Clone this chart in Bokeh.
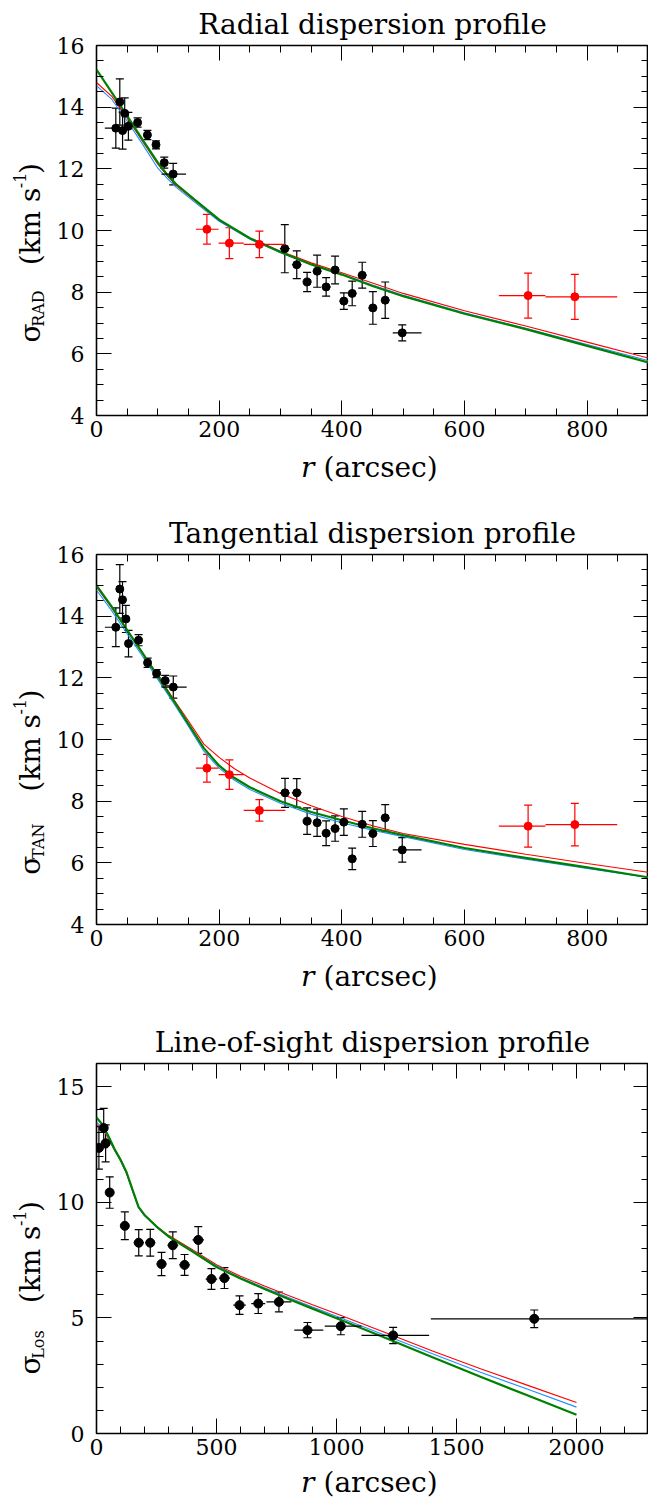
import numpy as np
from bokeh.plotting import figure
from bokeh.models import (Label, LinearAxis, SingleIntervalTicker, Range1d,
                          Whisker, TeeHead, ColumnDataSource, CustomJSTickFormatter)
from bokeh.layouts import column, row
from bokeh.embed import file_html
from bokeh.resources import INLINE

# ---------------- data ----------------
# Radial panel
rad_blk_x = [31.5, 38, 42.5, 46, 52, 67, 83, 97, 110.5, 125, 307, 326.5, 343.4, 359.7, 374.4, 389, 403.3, 416.9, 433.2, 450.6, 470.7, 498.5]
rad_blk_y = [13.32, 14.17, 13.24, 13.8, 13.38, 13.5, 13.1, 12.78, 12.2, 11.83, 9.41, 8.89, 8.33, 8.68, 8.17, 8.72, 7.71, 7.96, 8.55, 7.49, 7.74, 6.68]
rad_blk_e = [0.65, 0.75, 0.6, 0.5, 0.45, 0.15, 0.15, 0.13, 0.18, 0.35, 0.78, 0.45, 0.31, 0.52, 0.3, 0.45, 0.27, 0.4, 0.42, 0.53, 0.59, 0.26]
rad_blk_xlo = [13.6, 33, 37.5, 41, 47, 62, 78, 92, 105.5, 106, 299, 318.5, 336.4, 352.7, 367.4, 382, 396.3, 409.9, 426.2, 443.6, 463.7, 483]
rad_blk_xhi = [50.6, 43, 47.5, 51, 57, 72, 88, 102, 115.5, 146, 315, 334.5, 350.4, 366.7, 381.4, 396, 410.3, 423.9, 440.2, 457.6, 477.7, 530]
rad_red_x = [180, 216.6, 265.6, 703.7, 779.9]
rad_red_y = [10.04, 9.59, 9.55, 7.89, 7.85]
rad_red_e = [0.48, 0.5, 0.43, 0.73, 0.73]
rad_red_xlo = [162, 199, 240, 656, 732]
rad_red_xhi = [199, 240, 308, 732, 849]
rad_mod_x = [0, 25, 50, 75, 100, 115, 130, 160, 200, 250, 300, 350, 400, 450, 500, 600, 700, 800, 900]
rad_mod_green = [15.22, 14.47, 13.72, 12.95, 12.2, 11.82, 11.5, 11.0, 10.35, 9.75, 9.3, 8.9, 8.57, 8.2, 7.87, 7.3, 6.8, 6.26, 5.72]
rad_mod_red = [14.8, 14.35, 13.65, 12.9, 12.15, 11.78, 11.46, 10.97, 10.33, 9.76, 9.33, 8.95, 8.63, 8.3, 7.96, 7.4, 6.9, 6.38, 5.86]
rad_mod_blue = [14.7, 14.25, 13.55, 12.8, 12.02, 11.7, 11.4, 10.92, 10.3, 9.72, 9.28, 8.9, 8.58, 8.23, 7.9, 7.33, 6.83, 6.3, 5.78]

# Tangential panel
tan_blk_x = [31.5, 38, 42.4, 47.9, 52.2, 68.6, 83.3, 98, 112, 125.2, 307.4, 326.5, 343.4, 359.7, 374.4, 389, 403.3, 416.9, 433.2, 450.6, 470.7, 498.5]
tan_blk_y = [13.64, 14.88, 14.53, 13.91, 13.11, 13.22, 12.49, 12.14, 11.91, 11.7, 8.27, 8.27, 7.35, 7.30, 6.96, 7.11, 7.32, 6.13, 7.25, 6.95, 7.46, 6.42]
tan_blk_e = [0.63, 0.79, 0.59, 0.44, 0.43, 0.18, 0.15, 0.13, 0.17, 0.36, 0.47, 0.46, 0.43, 0.44, 0.4, 0.41, 0.43, 0.35, 0.42, 0.42, 0.43, 0.4]
tan_blk_xlo = [13.6, 33, 37.4, 42.9, 47.2, 63.6, 78.3, 93, 107, 106, 299, 318.5, 336.4, 352.7, 367.4, 382, 396.3, 409.9, 426.2, 443.6, 463.7, 483]
tan_blk_xhi = [48, 43, 47.4, 52.9, 57.2, 73.6, 88.3, 103, 117, 147, 315, 334.5, 350.4, 366.7, 381.4, 396, 410.3, 423.9, 440.2, 457.6, 477.7, 530]
tan_red_x = [180, 216.6, 265.6, 703.7, 779.9]
tan_red_y = [9.07, 8.86, 7.70, 7.19, 7.24]
tan_red_e = [0.45, 0.48, 0.35, 0.68, 0.69]
tan_red_xlo = [162, 199, 240, 656, 732]
tan_red_xhi = [199, 240, 308, 732, 849]
tan_mod_x = [0, 25, 50, 75, 100, 125, 150, 175, 200, 225, 250, 300, 350, 400, 450, 500, 600, 700, 800, 900]
tan_mod_green = [15.0, 14.3, 13.55, 12.8, 12.05, 11.28, 10.5, 9.72, 9.15, 8.75, 8.45, 8.0, 7.65, 7.38, 7.12, 6.9, 6.48, 6.16, 5.85, 5.53]
tan_mod_red = [14.95, 14.27, 13.55, 12.82, 12.08, 11.33, 10.6, 9.85, 9.42, 9.05, 8.75, 8.25, 7.85, 7.5, 7.2, 6.95, 6.6, 6.28, 5.98, 5.69]
tan_mod_blue = [14.85, 14.17, 13.43, 12.7, 11.95, 11.2, 10.42, 9.62, 9.07, 8.68, 8.38, 7.93, 7.58, 7.3, 7.06, 6.85, 6.43, 6.12, 5.82, 5.52]

# Line-of-sight panel
los_x = [10, 30, 38, 55, 118, 176, 224, 271, 318, 367, 424, 479, 533, 596, 674, 760, 879, 1018, 1236, 1824]
los_y = [12.35, 13.21, 12.55, 10.42, 8.98, 8.25, 8.25, 7.33, 8.14, 7.29, 8.37, 6.68, 6.72, 5.55, 5.62, 5.69, 4.47, 4.64, 4.24, 4.96]
los_e = [0.92, 0.85, 0.8, 0.68, 0.6, 0.57, 0.58, 0.5, 0.58, 0.45, 0.58, 0.45, 0.45, 0.4, 0.43, 0.43, 0.33, 0.37, 0.35, 0.38]
los_xlo = [0, 20, 28, 42, 100, 155, 203, 250, 295, 345, 400, 455, 510, 570, 645, 708, 824, 951, 1104, 1393]
los_xhi = [20, 40, 48, 68, 136, 197, 245, 292, 341, 389, 448, 503, 556, 622, 703, 812, 945, 1104, 1386, 2400]
los_mod_x = [0, 25, 50, 75, 100, 125, 150, 175, 200, 250, 300, 400, 500, 600, 700, 800, 900, 1000, 1200, 1400, 1600, 1800, 2000]
los_mod_green = [13.67, 13.35, 12.85, 12.3, 11.85, 11.3, 10.55, 9.8, 9.45, 8.95, 8.52, 7.87, 7.2, 6.7, 6.25, 5.82, 5.4, 4.98, 4.15, 3.3, 2.45, 1.63, 0.81]
los_mod_red = [13.35, 13.2, 12.75, 12.25, 11.8, 11.25, 10.5, 9.78, 9.45, 8.97, 8.57, 7.95, 7.3, 6.8, 6.38, 5.97, 5.57, 5.18, 4.38, 3.57, 2.8, 2.07, 1.34]
los_mod_blue = [13.45, 13.25, 12.8, 12.25, 11.8, 11.25, 10.5, 9.77, 9.42, 8.93, 8.52, 7.9, 7.25, 6.74, 6.3, 5.88, 5.47, 5.07, 4.26, 3.45, 2.65, 1.9, 1.14]

titles = ["Radial dispersion profile", "Tangential dispersion profile", "Line-of-sight dispersion profile"]
subs = ["RAD", "TAN", "Los"]

# ---------------- style / geometry ----------------
FONT = "DejaVu Serif"
FW, FH = 552, 370          # frame size
YL_W = 53                  # width of the y-label strip
ML = 42                    # main figure left border (tick labels)
MT, MB = 45, 31            # main figure top / bottom borders
MAIN_H = MT + FH + MB
C_RED, C_BLUE, C_GREEN = "#ff0000", "#1e90ff", "#008000"
BIG, SMALL = "28px", "16px"


def style_axis(ax, ticker, labels=True):
    ax.ticker = ticker
    ax.major_tick_in = 15
    ax.major_tick_out = 0
    ax.minor_tick_in = 7
    ax.minor_tick_out = 0
    ax.axis_line_color = None
    ax.major_tick_line_color = "black"
    ax.minor_tick_line_color = "black"
    ax.major_tick_line_width = 1
    ax.minor_tick_line_width = 1
    ax.major_label_text_font = FONT
    ax.major_label_text_color = "black"
    ax.major_label_text_font_size = "22px"
    if not labels:
        ax.formatter = CustomJSTickFormatter(code="return ''")
        ax.major_label_standoff = 0


def text_fig(w, h):
    f = figure(width=w, height=h, x_range=Range1d(0, w), y_range=Range1d(0, h),
               x_axis_location=None, y_axis_location=None, min_border=0,
               output_backend="svg", toolbar_location=None)
    f.grid.visible = False
    f.outline_line_color = None
    f.background_fill_color = "white"
    f.border_fill_color = "white"
    return f


def lab(f, x, y, text, size=BIG, **kw):
    f.add_layout(Label(x=x, y=y, text=text, text_font=FONT, text_font_size=size,
                       text_color="black", **kw))


def make_panel(xmax, ymin, ymax, xint, xminor, yint, yminor, title, sub,
               sig_rel, km_rel, xlab_h, xlab_mid):
    # main data figure (title lives in its own "above" panel)
    p = figure(frame_width=FW, frame_height=FH, min_border_left=ML, min_border_top=MT,
               min_border_bottom=MB, min_border_right=0, title=title,
               x_range=Range1d(0, xmax), y_range=Range1d(ymin, ymax),
               output_backend="svg", toolbar_location=None)
    p.title.align = "center"
    p.title.text_font = FONT
    p.title.text_font_size = "28px"
    p.title.text_font_style = "normal"
    p.title.text_color = "black"
    p.title.standoff = 10
    p.xgrid.visible = False
    p.ygrid.visible = False
    p.outline_line_color = "black"
    p.outline_line_width = 1.6
    p.background_fill_color = "white"
    p.border_fill_color = "white"
    style_axis(p.xaxis[0], SingleIntervalTicker(interval=xint, num_minor_ticks=xminor))
    style_axis(p.yaxis[0], SingleIntervalTicker(interval=yint, num_minor_ticks=yminor))
    p.xaxis[0].major_label_standoff = 5
    p.yaxis[0].major_label_standoff = 12
    top = LinearAxis()
    style_axis(top, SingleIntervalTicker(interval=xint, num_minor_ticks=xminor), labels=False)
    p.add_layout(top, "above")
    right = LinearAxis()
    style_axis(right, SingleIntervalTicker(interval=yint, num_minor_ticks=yminor), labels=False)
    p.add_layout(right, "right")

    # y-label strip (rotated pieces, reading upward)
    yf = text_fig(YL_W, MAIN_H)

    def ylocal(rel):  # rel: pixels below frame top
        return MAIN_H - (MT + rel)

    xc = 30
    rot = dict(angle=np.pi / 2, text_align="left", text_baseline="middle")
    lab(yf, xc, ylocal(sig_rel), "σ", BIG, **rot)
    lab(yf, xc + 8, ylocal(sig_rel - 19), sub, SMALL, **rot)
    lab(yf, xc, ylocal(km_rel), "(km s", BIG, **rot)
    lab(yf, xc - 11, ylocal(km_rel - 93), "-1", SMALL, **rot)
    lab(yf, xc, ylocal(km_rel - 110), ")", BIG, **rot)

    # x-label strip
    xf = text_fig(YL_W + ML + FW + 1, xlab_h)
    yb = xlab_h - xlab_mid
    lab(xf, 314, yb, "r", text_font_style="italic", text_align="right", text_baseline="middle")
    lab(xf, 323, yb, "(arcsec)", text_align="left", text_baseline="middle")

    panel = column(row(yf, p, spacing=0), xf, spacing=0)
    return p, panel


def add_points(p, x, y, e, xlo, xhi, color, size=8):
    lo = [a - b for a, b in zip(y, e)]
    hi = [a + b for a, b in zip(y, e)]
    src = ColumnDataSource(dict(x=x, y=y, lo=lo, hi=hi, xlo=xlo, xhi=xhi))
    p.segment(x0="xlo", y0="y", x1="xhi", y1="y", source=src, line_color=color, line_width=1.2)
    w = Whisker(source=src, base="x", upper="hi", lower="lo", dimension="height",
                line_color=color, line_width=1.2,
                upper_head=TeeHead(size=8, line_color=color, line_width=1.2),
                lower_head=TeeHead(size=8, line_color=color, line_width=1.2))
    p.add_layout(w)
    p.scatter("x", "y", source=src, size=size, color=color, marker="circle")


def add_models(p, x, red, blue, green):
    p.line(x, red, line_color=C_RED, line_width=1.1)
    p.line(x, blue, line_color=C_BLUE, line_width=1.1)
    p.line(x, green, line_color=C_GREEN, line_width=2.2)


p1, panel1 = make_panel(900, 4, 16, 200, 4, 2, 4, titles[0], subs[0], 313, 220, 63, 21)
add_models(p1, rad_mod_x, rad_mod_red, rad_mod_blue, rad_mod_green)
add_points(p1, rad_blk_x, rad_blk_y, rad_blk_e, rad_blk_xlo, rad_blk_xhi, "black")
add_points(p1, rad_red_x, rad_red_y, rad_red_e, rad_red_xlo, rad_red_xhi, C_RED)

p2, panel2 = make_panel(900, 4, 16, 200, 4, 2, 4, titles[1], subs[1], 341, 241, 63, 21)
add_models(p2, tan_mod_x, tan_mod_red, tan_mod_blue, tan_mod_green)
add_points(p2, tan_blk_x, tan_blk_y, tan_blk_e, tan_blk_xlo, tan_blk_xhi, "black")
add_points(p2, tan_red_x, tan_red_y, tan_red_e, tan_red_xlo, tan_red_xhi, C_RED)

p3, panel3 = make_panel(2300, 0, 16, 500, 5, 5, 5, titles[2], subs[2], 330, 244, 35, 18)
add_models(p3, los_mod_x, los_mod_red, los_mod_blue, los_mod_green)
add_points(p3, los_x, los_y, los_e, los_xlo, los_xhi, "black", size=9)

layout = column(panel1, panel2, panel3, spacing=0)
open("out.html", "w").write(file_html(layout, INLINE))
